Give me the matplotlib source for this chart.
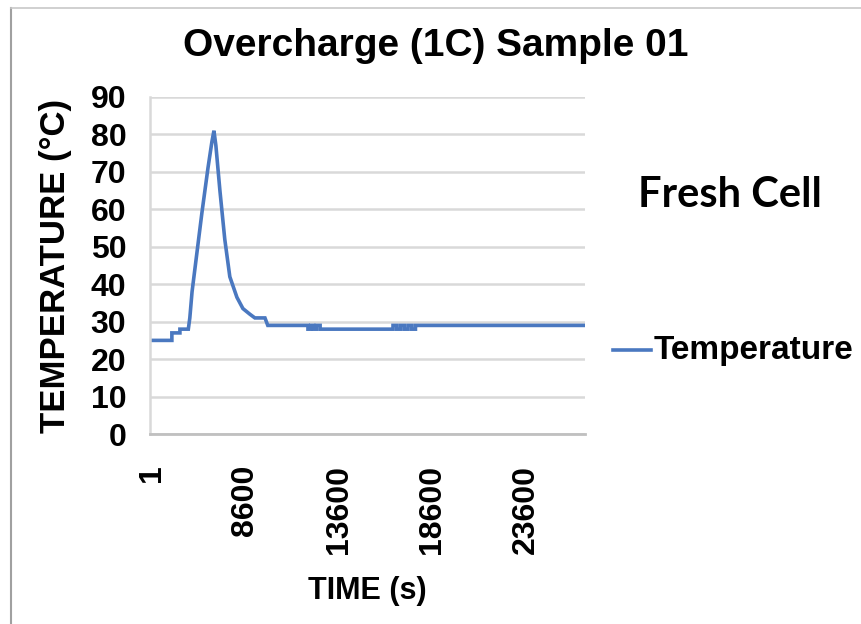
import matplotlib
matplotlib.use("Agg")
import matplotlib.pyplot as plt
from matplotlib.lines import Line2D

# Data (x in category-index units, y in °C)
time_idx = [-100, 1070, 1070, 1500, 1500, 1950, 2030, 2150, 2400, 2675, 3000, 3210, 3320,
            3425, 3640, 3900, 4170, 4550, 4870, 5240, 5510, 6050, 6200,
            8350, 8350, 8500, 8500, 8650, 8650, 8800, 8800, 9000, 9000,
            12900, 12900, 13100, 13100, 13300, 13300, 13500, 13500, 13700, 13700,
            13900, 13900, 14100, 14100, 14230, 14230, 23170]
temperature = [25, 25, 27, 27, 28, 28, 31, 38, 48, 59, 71, 78, 81,
               77, 65, 52, 42, 36.5, 33.5, 32, 31, 31, 29,
               29, 28, 28, 29, 29, 28, 28, 29, 29, 28,
               28, 29, 29, 28, 28, 29, 29, 28, 28, 29,
               29, 28, 28, 29, 29, 29, 29]

xtick_pos = [0, 5000, 10000, 15000, 20000]
xtick_labels = ['1', '8600', '13600', '18600', '23600']
yticks = list(range(0, 100, 10))

title = "Overcharge (1C) Sample 01"
xlabel = "TIME (s)"
ylabel = "TEMPERATURE (°C)"
series_name = "Temperature"
annotation = "Fresh Cell"

W, H = 861, 624
fig = plt.figure(figsize=(W / 100, H / 100), dpi=100)
fig.patch.set_facecolor('white')

# outer frame (left and top visible)
fig.add_artist(Line2D([11 / W, 11 / W], [0, 1 - 8 / H], transform=fig.transFigure,
                      color='#a0a0a0', lw=1.5))
fig.add_artist(Line2D([11 / W, 1], [1 - 8 / H, 1 - 8 / H], transform=fig.transFigure,
                      color='#c8c8c8', lw=1.2))

left, right, top, bottom = 150, 585, 97, 434
ax = fig.add_axes([left / W, 1 - bottom / H, (right - left) / W, (bottom - top) / H])

line_color = '#4a78c0'
ax.plot(time_idx, temperature, color=line_color, lw=2.6, solid_joinstyle='miter')

ax.set_xlim(-100, 23170)
ax.set_ylim(0, 90)
ax.set_yticks(yticks)
ax.set_xticks(xtick_pos)
ax.set_xticklabels(xtick_labels, rotation=90, va='top', ha='center')

font = 'Liberation Sans'
for lab in ax.get_yticklabels() + ax.get_xticklabels():
    lab.set_fontfamily(font)
    lab.set_fontweight('bold')
    lab.set_fontsize(23)

ax.tick_params(axis='y', length=0, pad=17)
ax.tick_params(axis='x', length=0, pad=22)

ax.grid(axis='y', color='#d9d9d9', lw=1.8)
ax.set_axisbelow(True)
for s in ['top', 'right']:
    ax.spines[s].set_visible(False)
ax.spines['left'].set_color('#d9d9d9')
ax.spines['left'].set_linewidth(1.8)
ax.spines['bottom'].set_color('#c0c0c0')
ax.spines['bottom'].set_linewidth(2.0)

ax.set_xlabel(xlabel, fontfamily=font, fontweight='bold', fontsize=22, labelpad=16)
ax.set_ylabel(ylabel, fontfamily=font, fontweight='bold', fontsize=25)
ax.yaxis.set_label_coords((72 - left) / (right - left), 0.50)

fig.text(436 / W, 1 - 46 / H, title, fontfamily=font, fontweight='bold', fontsize=28,
         ha='center', va='center')
fig.text(730 / W, 1 - 195 / H, annotation, fontfamily='Lato', fontweight='bold',
         fontsize=30, ha='center', va='center')

# legend
fig.add_artist(Line2D([613 / W, 651 / W], [1 - 350 / H, 1 - 350 / H],
                      transform=fig.transFigure, color=line_color, lw=2.6))
fig.text(654 / W, 1 - 350 / H, series_name, fontfamily=font, fontweight='bold',
         fontsize=24, ha='left', va='center')

fig.savefig('out.png', dpi=100)
